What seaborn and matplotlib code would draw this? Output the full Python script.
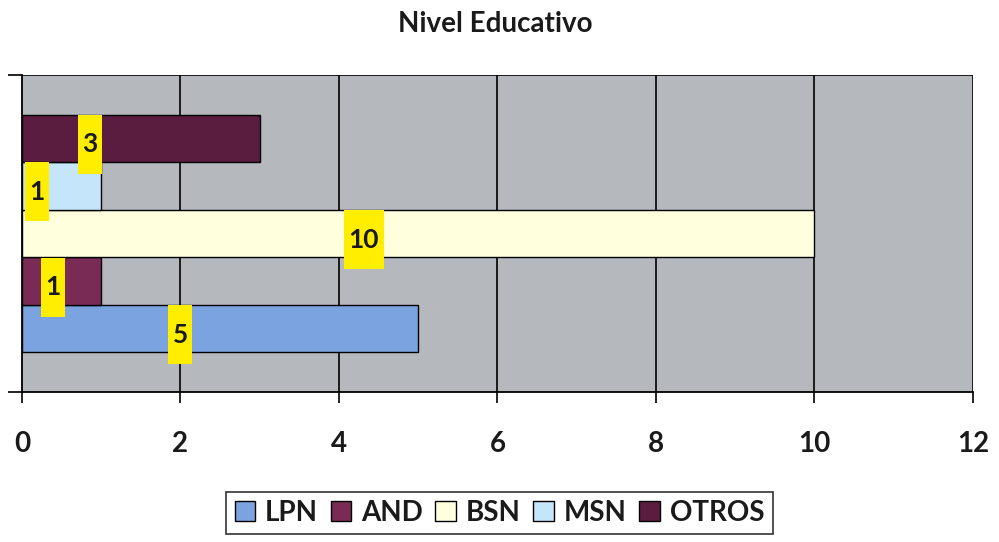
import matplotlib
matplotlib.use("Agg")
import matplotlib.pyplot as plt
import seaborn as sns
import pandas as pd
from matplotlib.patches import Rectangle

# Data
series = ["LPN", "AND", "BSN", "MSN", "OTROS"]
values = [5, 1, 10, 1, 3]
category = [""] * len(series)
colors = ["#7BA3E0", "#7A2B55", "#FFFFDD", "#C5E6FA", "#5A1D40"]
x_ticks = [0, 2, 4, 6, 8, 10, 12]
# where each value tag sits along the x axis
label_x = [2.0, 0.39, 4.31, 0.19, 0.86]

df = pd.DataFrame({"cat": category, "serie": series, "valor": values})

sns.set_theme(style="white")
plt.rcParams["font.family"] = ["Lato", "DejaVu Sans"]

fig = plt.figure(figsize=(9.99, 5.42), dpi=100)
ax = fig.add_axes([22 / 999, 1 - 392 / 542, (973 - 22) / 999, (392 - 75) / 542])
ax.set_facecolor("#B5B8BC")

sns.barplot(data=df, y="cat", x="valor", hue="serie", hue_order=series,
            palette=colors, saturation=1, orient="h", width=0.75, gap=0,
            edgecolor="black", linewidth=1.0, ax=ax, legend=True, zorder=3)
# first series at the bottom
ax.invert_yaxis()
ax.set_ylim(-0.5, 0.5)
ax.set_xlim(0, 12)

# vertical grid
for xv in x_ticks[1:]:
    ax.axvline(xv, color="black", lw=1.2, zorder=1)

for s in ["top", "right"]:
    ax.spines[s].set_visible(False)
ax.axhline(0.5, color="black", lw=1.2, zorder=1)
ax.spines["left"].set_color("black")
ax.spines["bottom"].set_color("black")
ax.spines["left"].set_linewidth(1.3)
ax.spines["bottom"].set_linewidth(1.3)

ax.set_xticks(x_ticks)
ax.set_xticklabels([str(t) for t in x_ticks], fontsize=20, fontweight="bold",
                   color="#1a1a1a")
ax.set_yticks([-0.5, 0.5])
ax.set_yticklabels([])
ax.tick_params(axis="x", bottom=True, direction="out", length=8, width=1.2,
               color="black", pad=20)
ax.tick_params(axis="y", left=True, direction="out", length=10, width=1.2,
               color="black")
ax.set_xlabel("")
ax.set_ylabel("")

# value tags
px_x = 79.25  # pixels per x unit
px_y = 317.0  # pixels per y unit
centers = [bar.get_y() + bar.get_height() / 2 for bar in ax.patches[:len(series)]]
for v, lx, cy in zip(values, label_x, centers):
    ty = cy - 6 / px_y
    w = (24 if v < 10 else 40) / px_x
    h = 59 / px_y
    ax.add_patch(Rectangle((lx - w / 2, ty - h / 2), w, h, facecolor="#FFEE00",
                           edgecolor="none", zorder=5))
    ax.text(lx, ty, str(v), ha="center", va="center", fontsize=19,
            fontweight="bold", color="#1a1a1a", zorder=6)

fig.text(0.496, 1 - 24 / 542, "Nivel Educativo", ha="center", va="center",
         fontsize=20, fontweight="bold", color="#1a1a1a")

handles, labels = ax.get_legend_handles_labels()
ax.get_legend().remove()
leg = fig.legend(handles, labels, loc="center", bbox_to_anchor=(0.5, 1 - 513 / 542),
                 ncol=5, frameon=True, fancybox=False, edgecolor="black",
                 handlelength=0.75, handleheight=0.75, handletextpad=0.35,
                 columnspacing=0.45, borderpad=0.3,
                 prop={"size": 20, "weight": "bold"})
leg.get_frame().set_linewidth(1.2)
for t in leg.get_texts():
    t.set_color("#1a1a1a")

fig.savefig("out.png", dpi=100)
